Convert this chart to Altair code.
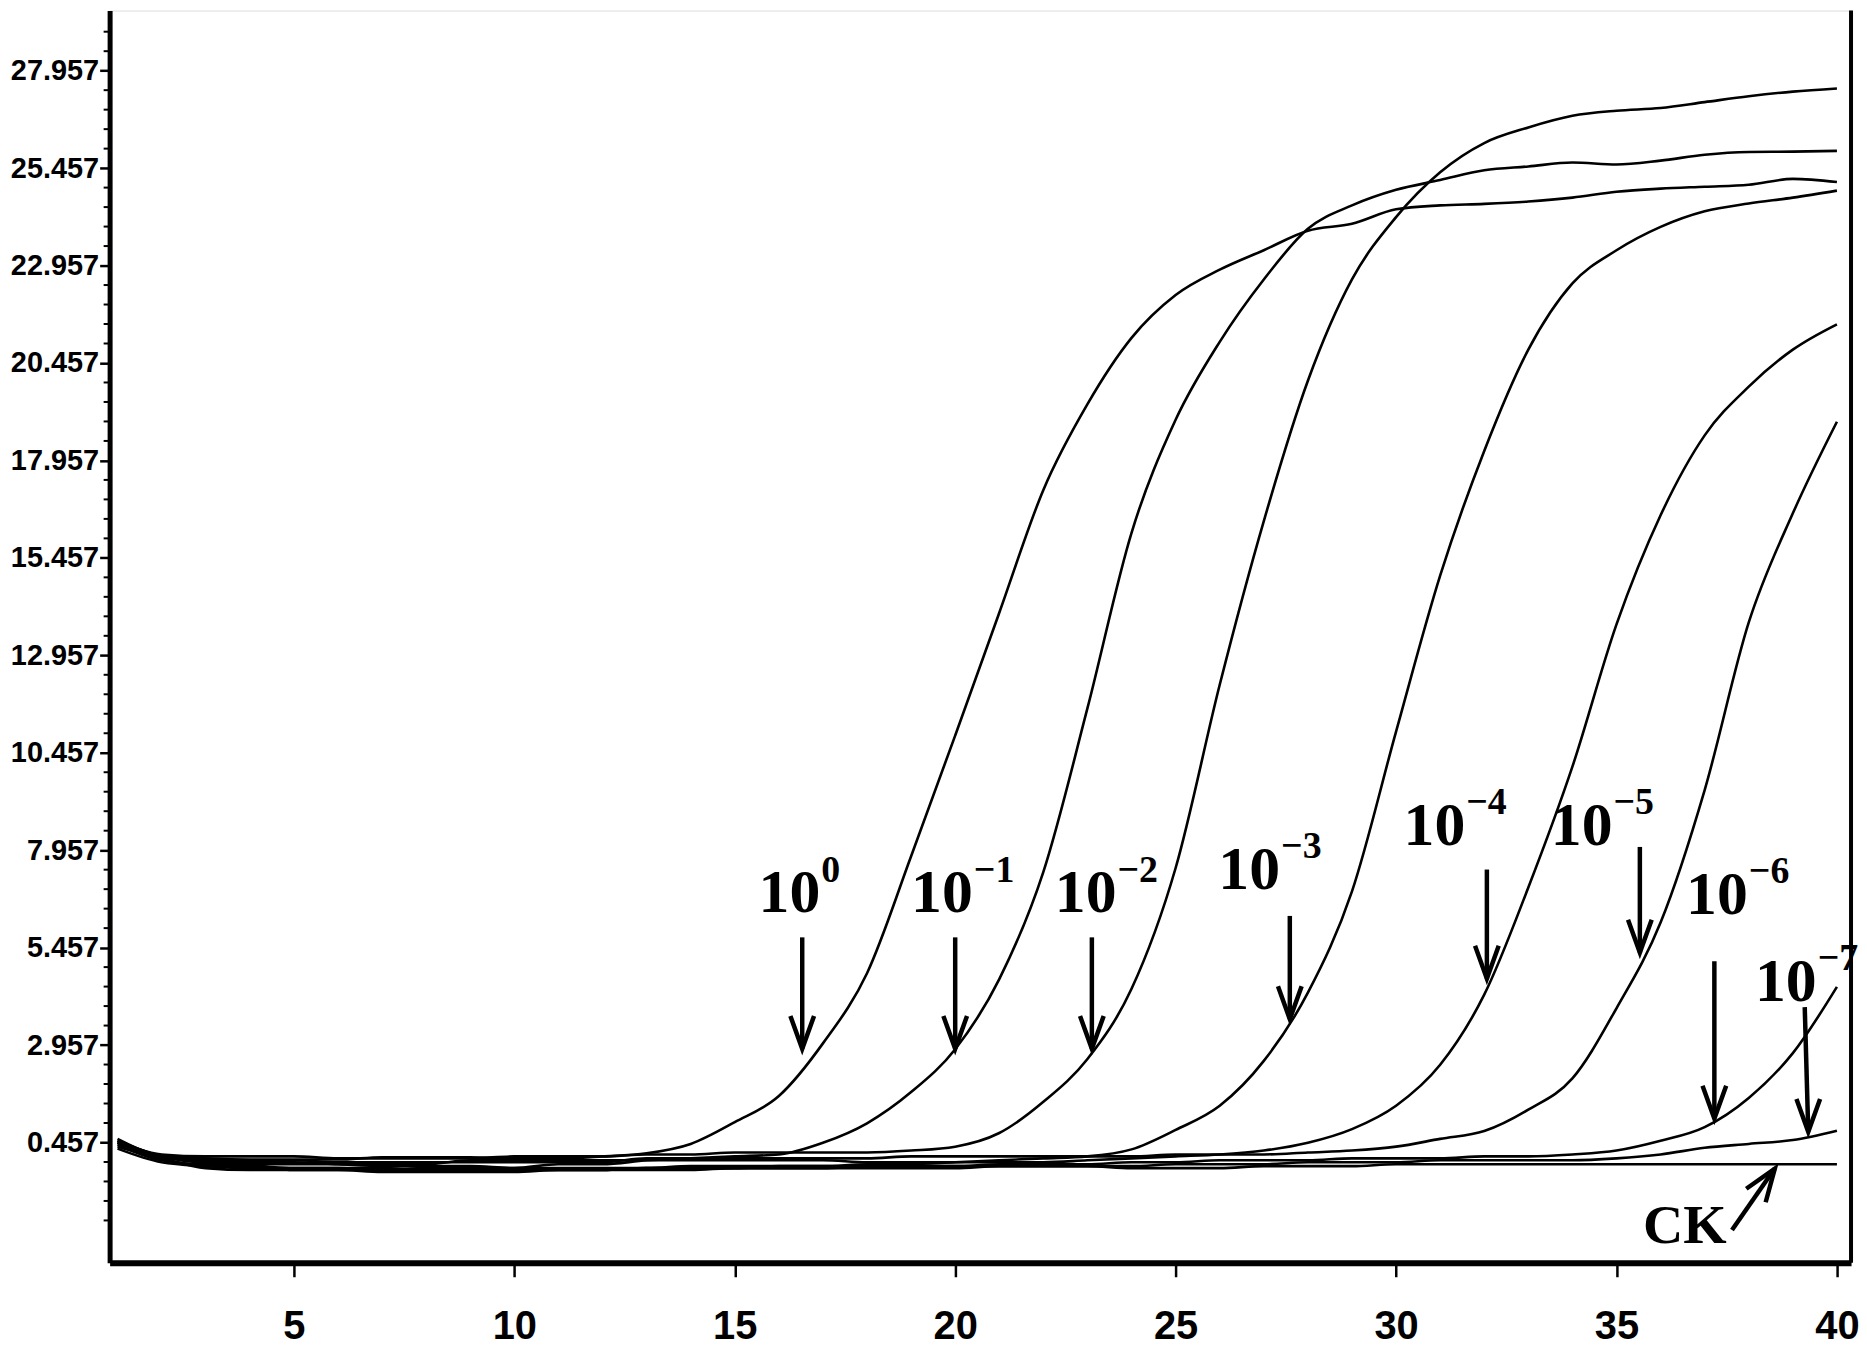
import altair as alt
import pandas as pd

# ---------------- data ----------------
cycles = list(range(1, 41))

s_1e0 = [0.55, 0.12, 0.05, 0.02, 0.02, 0.02, 0.08, 0.08, 0.08, 0.05,
         0.05, 0.10, 0.18, 0.42, 0.98, 1.65, 3.00, 4.80, 7.80, 10.90,
         14.05, 17.20, 19.40, 21.10, 22.20, 22.85, 23.35, 23.85, 24.03, 24.40,
         24.50, 24.54, 24.60, 24.70, 24.85, 24.93, 24.98, 25.03, 25.18, 25.10]
s_1e1 = [0.45, 0.10, -0.05, -0.10, -0.25, -0.25, -0.25, -0.20, -0.20, -0.20,
         -0.10, -0.10, 0.00, 0.05, 0.10, 0.15, 0.45, 0.95, 1.75, 2.85,
         4.65, 7.40, 11.60, 16.10, 19.00, 21.00, 22.60, 23.90, 24.50, 24.90,
         25.15, 25.40, 25.50, 25.60, 25.55, 25.65, 25.80, 25.87, 25.88, 25.90]
s_1e2 = [0.50, 0.15, 0.10, 0.10, 0.10, 0.05, 0.05, 0.05, 0.05, 0.10,
         0.10, 0.10, 0.15, 0.15, 0.20, 0.20, 0.20, 0.20, 0.25, 0.35,
         0.70, 1.50, 2.60, 4.40, 7.50, 12.20, 16.40, 20.00, 22.60, 24.20,
         25.35, 26.10, 26.50, 26.80, 26.93, 27.00, 27.15, 27.30, 27.42, 27.50]
s_1e3 = [0.35, 0.05, -0.20, -0.25, -0.25, -0.25, -0.30, -0.30, -0.30, -0.30,
         -0.25, -0.25, -0.20, -0.20, -0.20, -0.15, -0.15, -0.10, -0.10, -0.05,
         0.00, 0.05, 0.10, 0.28, 0.78, 1.40, 2.55, 4.30, 6.90, 11.00,
         15.00, 18.20, 20.80, 22.50, 23.35, 23.95, 24.35, 24.55, 24.70, 24.88]
s_1e4 = [0.40, 0.00, -0.10, -0.10, -0.10, -0.10, -0.10, -0.10, 0.00, 0.00,
         0.00, 0.00, 0.00, 0.00, 0.00, 0.00, 0.00, -0.05, -0.05, -0.05,
         -0.05, -0.05, 0.00, 0.05, 0.10, 0.15, 0.25, 0.45, 0.80, 1.40,
         2.45, 4.25, 7.00, 10.10, 13.75, 16.55, 18.60, 19.85, 20.80, 21.45]
s_1e5 = [0.45, 0.10, 0.00, 0.00, 0.00, -0.05, -0.05, -0.05, -0.05, -0.05,
         -0.05, -0.05, 0.05, 0.05, 0.05, 0.05, 0.05, 0.05, 0.10, 0.10,
         0.10, 0.10, 0.10, 0.10, 0.15, 0.15, 0.15, 0.20, 0.25, 0.35,
         0.55, 0.75, 1.30, 2.10, 3.90, 6.10, 9.50, 13.80, 16.60, 18.95]
s_1e6 = [0.50, 0.10, -0.05, -0.05, -0.05, -0.10, -0.15, -0.15, -0.15, -0.20,
         -0.20, -0.20, -0.20, -0.15, -0.15, -0.15, -0.15, -0.15, -0.15, -0.15,
         -0.10, -0.10, -0.10, -0.05, -0.05, 0.00, 0.00, 0.00, 0.05, 0.05,
         0.05, 0.10, 0.10, 0.15, 0.25, 0.50, 0.85, 1.60, 2.75, 4.45]
s_1e7 = [0.45, 0.05, -0.15, -0.15, -0.20, -0.20, -0.20, -0.25, -0.25, -0.25,
         -0.25, -0.25, -0.25, -0.25, -0.20, -0.20, -0.20, -0.20, -0.20, -0.20,
         -0.15, -0.15, -0.15, -0.15, -0.10, -0.10, -0.10, -0.05, -0.05, -0.05,
         0.00, 0.00, 0.00, 0.00, 0.05, 0.15, 0.32, 0.42, 0.52, 0.76]
s_ck = [0.30, -0.05, -0.15, -0.20, -0.20, -0.20, -0.25, -0.25, -0.25, -0.25,
        -0.25, -0.25, -0.20, -0.20, -0.20, -0.20, -0.20, -0.15, -0.15, -0.15,
        -0.15, -0.15, -0.15, -0.20, -0.20, -0.20, -0.15, -0.15, -0.15, -0.10,
        -0.10, -0.10, -0.10, -0.10, -0.10, -0.10, -0.10, -0.10, -0.10, -0.10]

series_names = ["1e0", "1e-1", "1e-2", "1e-3", "1e-4", "1e-5", "1e-6", "1e-7", "CK"]
series_values = [s_1e0, s_1e1, s_1e2, s_1e3, s_1e4, s_1e5, s_1e6, s_1e7, s_ck]

x_ticks = [5, 10, 15, 20, 25, 30, 35, 40]
y_ticks = [0.457, 2.957, 5.457, 7.957, 10.457, 12.957, 15.457,
           17.957, 20.457, 22.957, 25.457, 27.957]

# annotation labels: "10" with exponent, anchored at right/bottom of "10"
label_base = ["10"] * 8
label_exp = ["0", "\u22121", "\u22122", "\u22123", "\u22124", "\u22125", "\u22126", "\u22127"]
label_cycle = [16.94, 20.40, 23.66, 27.37, 31.57, 34.91, 37.98, 39.54]
label_value = [6.36, 6.36, 6.36, 6.97, 8.09, 8.09, 6.33, 4.08]

# arrows (tail -> tip)
arrow_cycle = [16.53, 20.00, 23.10, 27.59, 32.06, 35.53, 37.22, 39.27]
arrow_top = [5.72, 5.72, 5.72, 6.27, 7.46, 8.04, 5.11, 3.93]
arrow_tip_cycle = [16.53, 20.00, 23.10, 27.59, 32.06, 35.53, 37.22, 39.35]
arrow_tip = [2.86, 2.86, 2.86, 3.62, 4.66, 5.33, 1.07, 0.73]

ck_text = "CK"
ck_pos = (36.55, -1.70)
ck_arrow = (37.62, -1.79, 38.59, -0.21)

# ---------------- build tables ----------------
rows = []
for name, vals in zip(series_names, series_values):
    for c, v in zip(cycles, vals):
        rows.append({"cycle": c, "value": v, "series": name})
df = pd.DataFrame(rows)

df_labels = pd.DataFrame({"cycle": label_cycle, "value": label_value,
                          "base": label_base, "exp": label_exp})
df_arrows = pd.DataFrame({"cycle": arrow_cycle, "value": arrow_top,
                          "cycle2": arrow_tip_cycle, "value2": arrow_tip})
df_tips = pd.DataFrame({"cycle": arrow_tip_cycle, "value": arrow_tip})
df_ck = pd.DataFrame({"cycle": [ck_pos[0]], "value": [ck_pos[1]], "t": [ck_text]})
df_cka = pd.DataFrame({"cycle": [ck_arrow[0]], "value": [ck_arrow[1]],
                       "cycle2": [ck_arrow[2]], "value2": [ck_arrow[3]]})
df_cktip = pd.DataFrame({"cycle": [ck_arrow[2]], "value": [ck_arrow[3]]})

minor = []
for k in range(len(y_ticks) - 1):
    for j in range(1, 5):
        minor.append(round(y_ticks[k] + 0.5 * j, 3))
minor += [round(y_ticks[-1] + 0.5 * j, 3) for j in range(1, 3)]
minor += [round(y_ticks[0] - 0.5 * j, 3) for j in range(1, 5)]
df_minor = pd.DataFrame({"value": minor})

# ---------------- layout ----------------
W, H = 1748, 1257
X_DOMAIN = [0.82, 40.32]
Y_DOMAIN = [-2.63, 29.50]
AXFONT = "Liberation Sans, Arial, sans-serif"
SERIF = "Liberation Serif, DejaVu Serif, serif"

xscale = alt.Scale(domain=X_DOMAIN, nice=False, zero=False)
yscale = alt.Scale(domain=Y_DOMAIN, nice=False, zero=False)

x_axis = alt.Axis(values=x_ticks, title=None, grid=False, domainColor="black",
                  domainWidth=6, tickColor="black", tickWidth=2.5, tickSize=14,
                  labelFont=AXFONT, labelFontSize=40, labelFontWeight="bold",
                  labelColor="black", labelPadding=30, labelFlush=False,
                  labelOverlap=False)
y_axis = alt.Axis(values=y_ticks, format=".3f", title=None, grid=False,
                  domainColor="black", domainWidth=5, tickColor="black",
                  tickWidth=2.5, tickSize=10, labelFont=AXFONT, labelFontSize=29,
                  labelFontWeight="bold", labelColor="black", labelPadding=1,
                  labelFlush=False, labelOverlap=False)


def X(field="cycle"):
    return alt.X(f"{field}:Q", scale=xscale, axis=x_axis)


def Y(field="value"):
    return alt.Y(f"{field}:Q", scale=yscale, axis=y_axis)


lines = alt.Chart(df).mark_line(color="black", strokeWidth=2.6,
                                interpolate="monotone").encode(
    x=X(), y=Y(), detail="series:N")

minor_ticks = alt.Chart(df_minor).mark_rule(color="black", strokeWidth=2).encode(
    y=Y(), x=alt.value(-6), x2=alt.value(0))

right_border = alt.Chart(pd.DataFrame({"k": [0]})).mark_rule(
    color="black", strokeWidth=4).encode(
    x=alt.value(W), y=alt.value(0), y2=alt.value(H))

shafts = alt.Chart(df_arrows).mark_rule(color="black", strokeWidth=4.5).encode(
    x=X(), y=Y(), x2="cycle2:Q", y2="value2:Q")

V_DOWN = "M-0.72,-1L0,1L0.72,-1"
heads = alt.Chart(df_tips).mark_point(
    shape=V_DOWN, filled=False, size=1089, strokeWidth=4.5, color="black",
    opacity=1, yOffset=-16.5).encode(x=X(), y=Y())

base_txt = alt.Chart(df_labels).mark_text(
    align="right", baseline="alphabetic", font=SERIF, fontSize=62,
    fontWeight="bold", color="black").encode(x=X(), y=Y(), text="base:N")
exp_txt = alt.Chart(df_labels).mark_text(
    align="left", baseline="alphabetic", font=SERIF, fontSize=38,
    fontWeight="bold", color="black", dx=1, dy=-31).encode(x=X(), y=Y(), text="exp:N")

ck_label = alt.Chart(df_ck).mark_text(
    align="center", baseline="middle", font=SERIF, fontSize=56,
    fontWeight="bold", color="black").encode(x=X(), y=Y(), text="t:N")
ck_shaft = alt.Chart(df_cka).mark_rule(color="black", strokeWidth=4.5).encode(
    x=X(), y=Y(), x2="cycle2:Q", y2="value2:Q")
V_UP = "M-0.72,1L0,-1L0.72,1"
ck_head = alt.Chart(df_cktip).mark_point(
    shape=V_UP, filled=False, size=1089, strokeWidth=4.5, color="black",
    opacity=1, angle=35, xOffset=-9.4, yOffset=13.6).encode(x=X(), y=Y())

chart = alt.layer(
    lines, minor_ticks, right_border, shafts, heads, base_txt, exp_txt,
    ck_label, ck_shaft, ck_head
).properties(
    width=W, height=H,
    autosize=alt.AutoSizeParams(type="none"),
    padding={"left": 102, "top": 0, "right": 8, "bottom": 90},
).configure_view(stroke=None).configure(background="white")

chart.save("out.html", embed_options={"renderer": "svg", "actions": False})
